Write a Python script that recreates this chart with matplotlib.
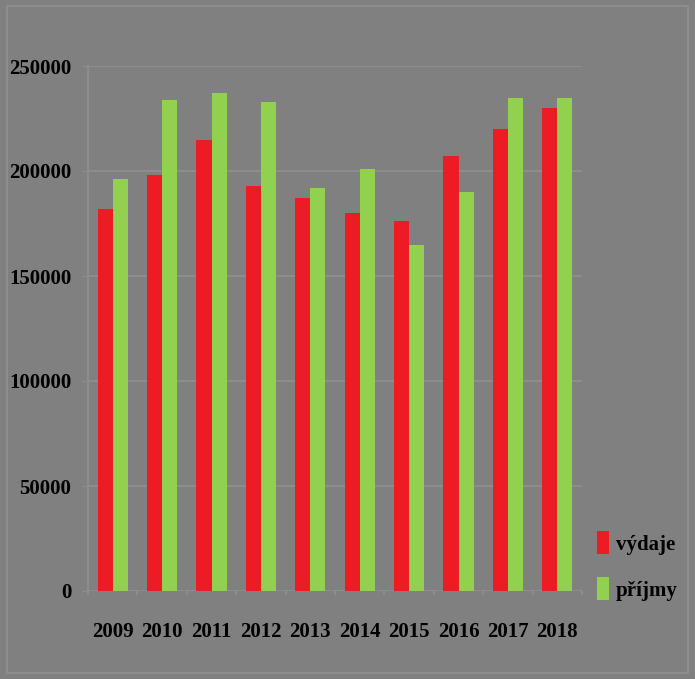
import numpy as np
import matplotlib
matplotlib.use("Agg")
import matplotlib.pyplot as plt
from matplotlib.patches import Rectangle

roky = ["2009", "2010", "2011", "2012", "2013", "2014", "2015", "2016", "2017", "2018"]
vydaje = [182000, 198000, 215000, 193000, 187000, 180000, 176000, 207000, 220000, 230000]
prijmy = [196000, 234000, 237000, 233000, 192000, 201000, 165000, 190000, 235000, 235000]
yticks = [0, 50000, 100000, 150000, 200000, 250000]

bg = "#808080"
svetla = "#8d8d8d"
cervena = "#ed1c24"
zelena = "#92d050"
pismo = dict(family=["Liberation Serif", "DejaVu Serif"], weight="bold", size=15)

fig = plt.figure(figsize=(6.95, 6.79), dpi=100, facecolor=bg)
ax = fig.add_axes([88/695, 1-591/679, (582-88)/695, (591-66)/679])
ax.set_facecolor(bg)

x = np.arange(len(roky))
w = 0.305
b1 = ax.bar(x - w/2, vydaje, w, color=cervena, label="výdaje", zorder=3)
b2 = ax.bar(x + w/2, prijmy, w, color=zelena, label="příjmy", zorder=3)

ax.set_xlim(-0.5, len(roky) - 0.5)
ax.set_ylim(0, 250000)
ax.set_yticks(yticks)
ax.set_yticklabels([str(v) for v in yticks], **pismo)
ax.set_xticks(x)
ax.set_xticklabels(roky, **pismo)
ax.set_xticks(np.arange(len(roky) + 1) - 0.5, minor=True)
ax.tick_params(axis="x", which="major", length=0, pad=22)
ax.tick_params(axis="x", which="minor", length=3, color=svetla, width=1.5)
ax.tick_params(axis="y", length=4, color=svetla, pad=8)
ax.grid(axis="y", color=svetla, linewidth=1.5, zorder=0)

for s in ["top", "right", "bottom"]:
    ax.spines[s].set_visible(False)
ax.spines["left"].set_color(svetla)
ax.spines["left"].set_linewidth(1.5)

# legenda vpravo dole
fig.legend(handles=[b1, b2], loc="center left", bbox_to_anchor=(578/695, 1-566/679),
           frameon=False, prop=dict(family=["Liberation Serif", "DejaVu Serif"], weight="bold", size=15),
           handlelength=0.6, handleheight=1.3, handletextpad=0.3, labelspacing=1.1)

fig.patches.append(Rectangle((7/695, 6/679), 681/695, 667/679, transform=fig.transFigure,
                             fill=False, edgecolor=svetla, linewidth=1.5))

fig.savefig("out.png", dpi=100, facecolor=bg)
